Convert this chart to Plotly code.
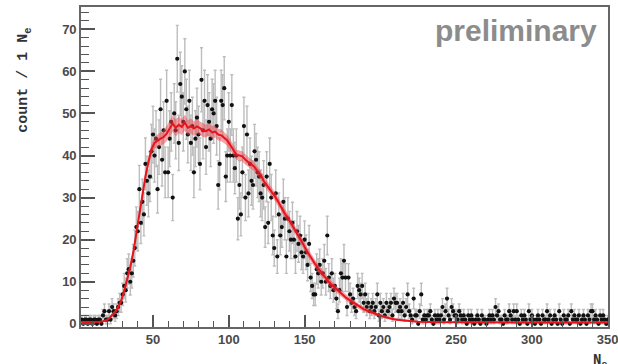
import math
import plotly.graph_objects as go

# ---- data ----
ne_bins = list(range(3, 351))
counts = [
    1, 0, 1, 1, 0, 1, 1,
    0, 1, 1, 0, 1, 1, 0, 2, 3, 1,
    1, 3, 1, 4, 3, 2, 3, 4, 5, 5,
    7, 9, 8, 12, 13, 10, 12, 15, 18, 23,
    22, 32, 24, 29, 26, 38, 34, 31, 35, 41,
    45, 40, 44, 32, 42, 51, 39, 46, 36, 53,
    36, 44, 48, 30, 50, 46, 63, 43, 57, 54,
    48, 60, 51, 45, 53, 43, 47, 36, 44, 49,
    45, 38, 58, 46, 53, 42, 52, 48, 44, 51,
    50, 53, 47, 33, 38, 53, 52, 56, 35, 40,
    48, 40, 52, 40, 37, 40, 25, 33, 26, 36,
    47, 30, 45, 31, 38, 34, 33, 41, 39, 36,
    35, 31, 30, 33, 23, 35, 24, 38, 30, 21,
    18, 31, 16, 26, 21, 23, 29, 25, 16, 25,
    22, 20, 24, 20, 16, 22, 19, 21, 17, 16,
    20, 17, 14, 19, 11, 9, 7, 7, 13, 12,
    14, 10, 12, 15, 10, 21, 11, 9, 12, 8,
    9, 6, 3, 8, 12, 11, 15, 11, 4, 11,
    7, 5, 6, 4, 3, 9, 8, 7, 9, 5,
    7, 4, 5, 3, 4, 5, 3, 4, 7, 2,
    5, 3, 4, 2, 5, 3, 4, 5, 2, 6,
    5, 5, 3, 4, 3, 5, 2, 4, 7, 3,
    2, 1, 6, 2, 2, 0, 3, 7, 1, 2,
    1, 2, 2, 3, 1, 0, 2, 1, 2, 1,
    2, 4, 1, 3, 6, 2, 1, 4, 3, 2,
    2, 1, 3, 2, 1, 2, 1, 0, 2, 1,
    2, 1, 0, 1, 2, 1, 0, 2, 1, 1,
    0, 1, 2, 1, 2, 1, 4, 2, 3, 1,
    1, 0, 2, 1, 1, 3, 2, 1, 3, 1,
    3, 1, 0, 2, 1, 2, 1, 0, 3, 1,
    2, 1, 0, 1, 2, 1, 0, 2, 1, 1,
    3, 1, 2, 0, 1, 2, 1, 0, 3, 1,
    0, 2, 1, 1, 2, 0, 3, 1, 2, 1,
    1, 2, 0, 1, 2, 1, 0, 2, 1, 3,
    3, 1, 2, 1, 0, 2, 1, 2, 1, 0,
    1,
]

model_x = list(range(3, 222, 2)) + [225, 230, 240, 260, 280, 300, 320, 340, 350]
model_y = [
    0.4, 0.4, 0.4, 0.4, 0.4, 0.45, 0.5, 0.6, 0.8,
    1.3, 2.0, 2.8, 3.9, 5.5,
    7.8, 10.5, 13.5, 17.0, 21.5, 26.0, 31.0, 35.0, 38.5, 41.5,
    43.0, 43.6, 44.0, 44.4, 45.2, 46.4, 47.6, 46.6, 47.3, 46.8,
    47.8, 46.6, 47.0, 46.4, 46.9, 46.5, 46.0, 45.8, 46.2, 45.5,
    45.7, 45.0, 44.8, 44.2, 43.6,
    42.5, 41.4, 40.2, 40.0, 39.8, 39.0, 38.4, 37.8, 37.3, 36.2,
    35.4, 34.0, 33.0, 32.2, 31.2, 30.0, 28.8, 27.3, 26.2, 25.2,
    24.0, 22.6, 21.4, 20.2, 19.0,
    17.6, 16.4, 15.3, 14.2, 13.2, 12.2, 11.3, 10.4, 9.6, 8.9,
    8.2, 7.5, 6.9, 6.3, 5.8, 5.3, 4.8, 4.3, 3.9, 3.5,
    3.2, 2.9, 2.6, 2.3, 2.0,
    1.8, 1.6, 1.4, 1.25, 1.1, 1.0, 0.9, 0.8, 0.7, 0.65, 0.6,
    0.5, 0.45, 0.4, 0.35, 0.35, 0.3, 0.3, 0.3, 0.3,
]
model_hw = [
    0.15, 0.15, 0.15, 0.15, 0.15, 0.15, 0.15, 0.15, 0.15,
    0.3, 0.4, 0.5, 0.6, 0.7,
    0.8, 0.9, 1.0, 1.0, 1.1, 1.1, 1.2, 1.2, 1.3, 1.3,
    1.4, 1.5, 1.6, 1.7, 1.8, 1.9, 2.0, 2.0, 2.0, 1.9, 1.9, 1.8, 1.8,
    1.7, 1.7, 1.6, 1.6, 1.5, 1.5, 1.5, 1.4, 1.4, 1.4, 1.3, 1.3,
    1.3, 1.3, 1.2, 1.2, 1.2, 1.2, 1.2, 1.1, 1.1, 1.1, 1.1, 1.1, 1.1,
    1.1, 1.1, 1.1, 1.1, 1.1, 1.1, 1.0, 1.0, 1.0, 1.0, 1.0, 1.0,
    1.0, 1.0, 1.0, 1.0, 1.0, 0.9, 0.9, 0.9, 0.9, 0.9, 0.8, 0.8, 0.8,
    0.8, 0.7, 0.7, 0.7, 0.6, 0.6, 0.6, 0.5, 0.5, 0.5, 0.4, 0.4,
    0.4, 0.35, 0.35, 0.3, 0.3, 0.3, 0.25, 0.25, 0.25, 0.2, 0.2,
    0.2, 0.2, 0.15, 0.15, 0.15, 0.15, 0.15, 0.15, 0.15,
]

y_ticks = [0, 10, 20, 30, 40, 50, 60, 70]
x_ticks = [50, 100, 150, 200, 250, 300, 350]

errors = [math.sqrt(c) for c in counts]
band_lo = [y - h for y, h in zip(model_y, model_hw)]
band_hi = [y + h for y, h in zip(model_y, model_hw)]

fig = go.Figure()

fig.add_trace(go.Scatter(
    x=ne_bins, y=counts, mode="markers",
    marker=dict(color="#111111", size=4.2),
    error_y=dict(type="data", array=errors, visible=True,
                 color="#bdbdbd", thickness=1.4, width=1.5),
    showlegend=False, hoverinfo="skip",
))

fig.add_trace(go.Scatter(
    x=model_x, y=band_lo, mode="lines", line=dict(width=0, color="rgba(0,0,0,0)"),
    showlegend=False, hoverinfo="skip",
))
fig.add_trace(go.Scatter(
    x=model_x, y=band_hi, mode="lines", line=dict(width=0, color="rgba(0,0,0,0)"),
    fill="tonexty", fillcolor="rgba(240,70,80,0.50)",
    showlegend=False, hoverinfo="skip",
))
fig.add_trace(go.Scatter(
    x=model_x, y=model_y, mode="lines",
    line=dict(color="#e8141c", width=2.0),
    showlegend=False, hoverinfo="skip",
))

tick_font = dict(family="Liberation Sans, Arial, sans-serif", size=13,
                 color="#4a4a4a", weight="bold")

fig.update_xaxes(
    range=[2.5, 350.2], tickvals=x_ticks, ticktext=[str(v) for v in x_ticks],
    ticklabeloverflow="allow", automargin=False,
    ticks="inside", ticklen=12, tickwidth=1.5, tickcolor="#555",
    minor=dict(dtick=10, tick0=0, ticks="inside", ticklen=6, tickcolor="#555", tickwidth=1.2),
    showline=True, linecolor="#666", linewidth=1.6, mirror=True,
    showgrid=False, zeroline=False, tickfont=tick_font,
)
fig.update_yaxes(
    range=[-0.75, 75.3], tickvals=y_ticks, ticktext=[str(v) for v in y_ticks],
    automargin=False,
    ticks="inside", ticklen=14, tickwidth=1.5, tickcolor="#555",
    minor=dict(dtick=2, tick0=0, ticks="inside", ticklen=8, tickcolor="#555", tickwidth=1.2),
    showline=True, linecolor="#666", linewidth=1.6, mirror=True,
    showgrid=False, zeroline=False, tickfont=tick_font,
)

fig.add_annotation(
    text="preliminary", xref="paper", yref="paper", x=0.982, y=0.928,
    xanchor="right", yanchor="middle", showarrow=False,
    font=dict(family="Liberation Sans, Arial, sans-serif", size=30,
              color="#8c8c8c", weight="bold"),
)
fig.add_annotation(
    text="count / 1 N<sub>e</sub>", xref="paper", yref="paper",
    x=-0.108, y=0.77, xanchor="center", yanchor="middle", textangle=-90,
    showarrow=False,
    font=dict(family="Liberation Mono, Courier New, monospace", size=15,
              color="#333", weight="bold"),
)
fig.add_annotation(
    text="N<sub>e</sub>", xref="paper", yref="paper",
    x=0.985, y=-0.072, xanchor="center", yanchor="top",
    showarrow=False,
    font=dict(family="Liberation Mono, Courier New, monospace", size=14,
              color="#333", weight="bold"),
)

fig.update_layout(
    width=618, height=364,
    margin=dict(l=81, r=10, t=7, b=37, autoexpand=False),
    paper_bgcolor="white", plot_bgcolor="white",
)

fig.write_html("out.html")
